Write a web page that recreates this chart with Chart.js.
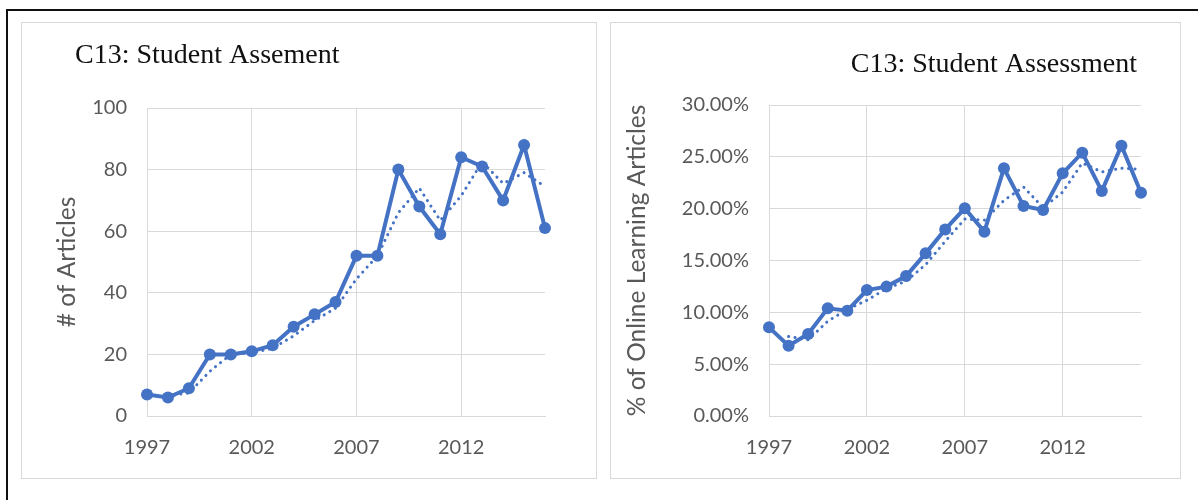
<!DOCTYPE html>
<html>
<head>
<meta charset="utf-8">
<script src="https://cdn.jsdelivr.net/npm/chart.js@4.4.0/dist/chart.umd.min.js"></script>
<style>
  html, body { margin: 0; padding: 0; background: #ffffff; }
  body { width: 1198px; height: 500px; position: relative; overflow: hidden; }
  .frame { position: absolute; left: 6px; top: 9px; width: 1300px; height: 600px;
           border-top: 2px solid #111; border-left: 2px solid #111; }
  .panel { position: absolute; top: 22px; height: 455px; border: 1px solid #D9D9D9; background: #fff; }
  #p1 { left: 21px; width: 574px; }
  #p2 { left: 610px; width: 569px; }
  canvas { display: block; }
</style>
</head>
<body>
<div class="frame"></div>
<div class="panel" id="p1"><canvas id="c1" width="574" height="455"></canvas></div>
<div class="panel" id="p2"><canvas id="c2" width="569" height="455"></canvas></div>

<script>
// Publication years
const years = [1997, 1998, 1999, 2000, 2001, 2002, 2003, 2004, 2005, 2006,
               2007, 2008, 2009, 2010, 2011, 2012, 2013, 2014, 2015, 2016];
const labeledYears = [1997, 2002, 2007, 2012];

// Number of student-assessment articles per year and its 2-year moving average
const articleCounts = [7, 6, 9, 20, 20, 21, 23, 29, 33, 37, 52, 52, 80, 68, 59, 84, 81, 70, 88, 61];
const articleTrend  = [null, 6.5, 7.5, 14.5, 20, 20.5, 22, 26, 31, 35, 44.5, 52, 66, 74, 63.5, 71.5, 82.5, 75.5, 79, 74.5];

// Share of all online learning articles (%) and its 2-year moving average
const sharePercent = [8.55, 6.78, 7.91, 10.39, 10.16, 12.15, 12.48, 13.5, 15.69, 18.0,
                      20.03, 17.78, 23.89, 20.26, 19.87, 23.41, 25.4, 21.7, 26.08, 21.54];
const shareTrend   = [null, 7.67, 7.35, 9.15, 10.28, 11.16, 12.3, 13.0, 14.6, 16.85,
                      19.0, 18.9, 20.8, 22.1, 20.1, 21.6, 24.4, 23.55, 23.9, 23.8];

// Value-axis ticks
const countTicks = [0, 20, 40, 60, 80, 100];
const shareTicks = [0, 5, 10, 15, 20, 25, 30];

const BLUE = '#4472C4';
const GRID = '#D9D9D9';
const TEXT = '#595959';
const TICK_FONT = { family: 'Lato', size: 20 };
const AXIS_FONT = { family: 'Lato', size: 24.5 };

// Serif chart heading drawn at a fixed spot in the panel
const panelTitle = {
  id: 'panelTitle',
  afterDraw(chart, args, opts) {
    const ctx = chart.ctx;
    ctx.save();
    ctx.font = '28px "Liberation Serif"';
    ctx.fillStyle = '#111';
    ctx.textAlign = opts.align;
    ctx.textBaseline = 'alphabetic';
    ctx.fillText(opts.text, opts.x, opts.y);
    ctx.restore();
  }
};

function buildChart(canvasId, cfg) {
  return new Chart(document.getElementById(canvasId), {
    type: 'line',
    data: {
      labels: years.map(String),
      datasets: [
        {
          data: cfg.values,
          borderColor: BLUE,
          backgroundColor: BLUE,
          borderWidth: 4,
          pointRadius: 6,
          pointBorderWidth: 0,
          pointBackgroundColor: BLUE,
          tension: 0,
          clip: false
        },
        {
          data: cfg.trend,
          borderColor: BLUE,
          borderWidth: 3,
          borderDash: [0.1, 6.4],
          borderCapStyle: 'round',
          pointRadius: 0,
          tension: 0,
          spanGaps: false,
          clip: false
        }
      ]
    },
    options: {
      responsive: false,
      devicePixelRatio: 1,
      animation: false,
      events: [],
      layout: { padding: cfg.padding },
      plugins: {
        legend: { display: false },
        tooltip: { enabled: false },
        panelTitle: cfg.title
      },
      scales: {
        x: {
          type: 'category',
          offset: false,
          afterFit(s) { s.height = cfg.xHeight; },
          grid: {
            drawTicks: false,
            lineWidth: 1,
            color: c => labeledYears.includes(years[c.index]) ? GRID : 'rgba(0,0,0,0)'
          },
          border: { display: true, color: GRID, width: 1 },
          ticks: {
            autoSkip: false,
            maxRotation: 0,
            padding: 20,
            color: TEXT,
            font: TICK_FONT,
            callback: (v, i) => labeledYears.includes(years[i]) ? String(years[i]) : ''
          }
        },
        y: {
          min: cfg.ticks[0],
          max: cfg.ticks[cfg.ticks.length - 1],
          afterBuildTicks(s) { s.ticks = cfg.ticks.map(v => ({ value: v })); },
          afterFit(s) { s.width = cfg.yWidth; },
          grid: { drawTicks: false, lineWidth: 1, color: GRID },
          border: { display: true, color: GRID, width: 1 },
          ticks: {
            padding: 20,
            color: TEXT,
            font: TICK_FONT,
            callback: cfg.format
          },
          title: {
            display: true,
            text: cfg.axisTitle,
            color: TEXT,
            font: AXIS_FONT,
            padding: { top: cfg.axisTitlePad, bottom: 0 }
          }
        }
      }
    },
    plugins: [panelTitle]
  });
}

buildChart('c1', {
  values: articleCounts,
  trend: articleTrend,
  ticks: countTicks,
  format: v => String(v),
  axisTitle: '# of Articles',
  axisTitlePad: 30.3,
  yWidth: 125,
  xHeight: 62,
  padding: { left: 0, right: 51, top: 85, bottom: 0 },
  title: { text: 'C13: Student Assement', x: 53, y: 40, align: 'left' }
});

buildChart('c2', {
  values: sharePercent,
  trend: shareTrend,
  ticks: shareTicks,
  format: v => v.toFixed(2) + '%',
  axisTitle: '% of Online Learning Articles',
  axisTitlePad: 11.3,
  yWidth: 158,
  xHeight: 62,
  padding: { left: 0, right: 39, top: 82, bottom: 0 },
  title: { text: 'C13: Student Assessment', x: 526, y: 49, align: 'right' }
});
</script>
</body>
</html>
